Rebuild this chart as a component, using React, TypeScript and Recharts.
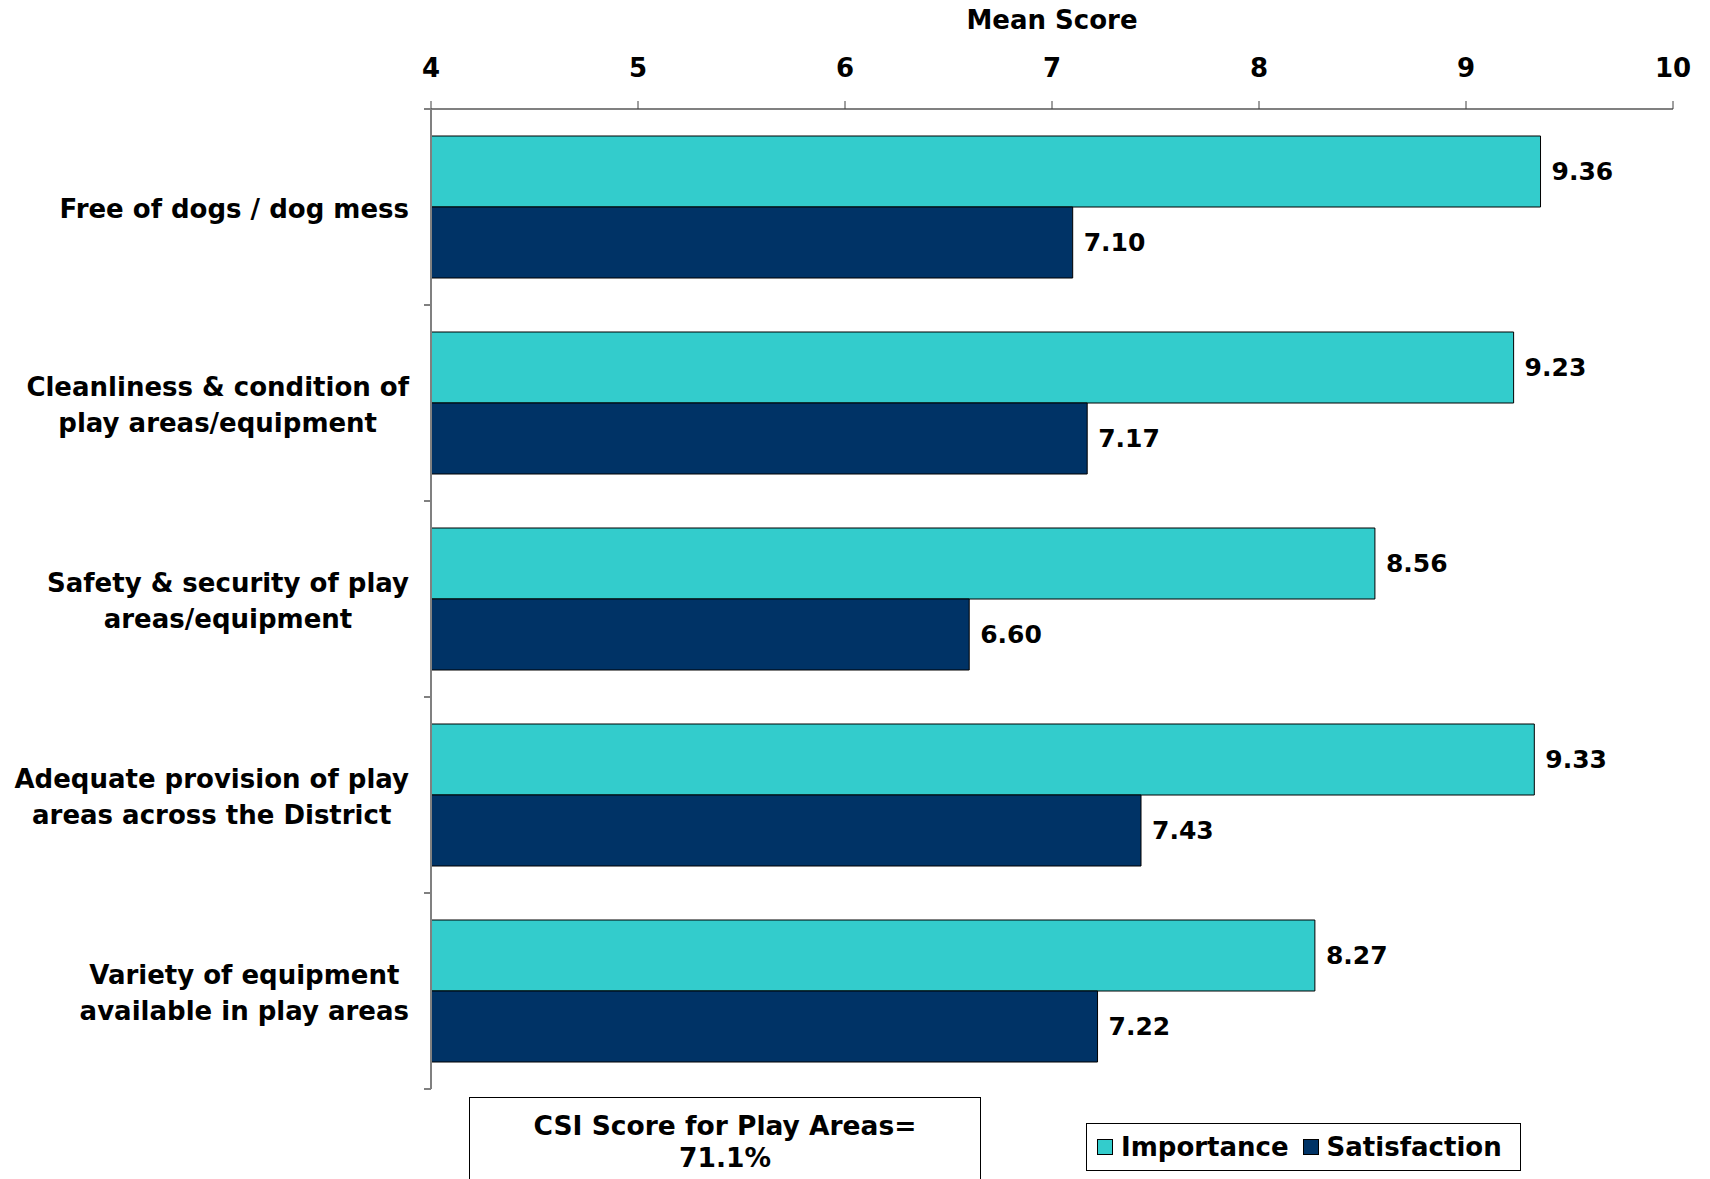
import { Bar, BarChart, LabelList, XAxis, YAxis } from 'recharts';

const categories = [
  'Free of dogs / dog mess',
  'Cleanliness & condition of\nplay areas/equipment',
  'Safety & security of play\nareas/equipment',
  'Adequate provision of play\nareas across the District',
  'Variety of equipment\navailable in play areas',
];
const importance = [9.36, 9.23, 8.56, 9.33, 8.27];
const satisfaction = [7.1, 7.17, 6.6, 7.43, 7.22];
const scoreTicks = [4, 5, 6, 7, 8, 9, 10];

const data = categories.map((name, i) => ({
  name,
  importance: importance[i],
  satisfaction: satisfaction[i],
}));

const W = 1710;
const H = 1179;
const TOP = 109;
const BOTTOM = 90;
const LEFT = 431;
const RIGHT = 37;
const BAND = (H - TOP - BOTTOM) / categories.length;
const FONT = "'DejaVu Sans', Verdana, sans-serif";
const LABEL_SIZE = 26;

let ctx: CanvasRenderingContext2D | null = null;
function measure(text: string) {
  if (!ctx) ctx = document.createElement('canvas').getContext('2d');
  if (!ctx) return text.length * 16;
  ctx.font = `bold ${LABEL_SIZE}px ${FONT}`;
  return ctx.measureText(text).width;
}

function CategoryTick(props: any) {
  const { x, y, payload, index } = props;
  const axisX = x + 22;
  const lines = String(payload.value).split('\n');
  const maxW = Math.max(...lines.map(measure));
  const cx = x - maxW / 2;
  const lineH = 36;
  const startY = y - ((lines.length - 1) * lineH) / 2 + 2;
  return (
    <g>
      <line x1={axisX - 7} x2={axisX} y1={y - BAND / 2} y2={y - BAND / 2} stroke="#808080" strokeWidth={2} />
      {index === categories.length - 1 && (
        <line x1={axisX - 7} x2={axisX} y1={y + BAND / 2} y2={y + BAND / 2} stroke="#808080" strokeWidth={2} />
      )}
      <text textAnchor="middle" fontFamily={FONT} fontWeight="bold" fontSize={LABEL_SIZE} fill="#000">
        {lines.map((l, i) => (
          <tspan key={i} x={cx} y={startY + i * lineH} dy="0.36em">
            {l}
          </tspan>
        ))}
      </text>
    </g>
  );
}

const valueLabel = {
  position: 'right' as const,
  offset: 11,
  formatter: (v: any) => Number(v).toFixed(2),
  fill: '#000',
  fontSize: 25,
  fontWeight: 'bold',
  fontFamily: FONT,
};

export default function App() {
  return (
    <div style={{ position: 'absolute', left: 0, top: 0, width: W, height: H, background: '#fff', fontFamily: FONT }}>
      <BarChart
        width={W}
        height={H}
        data={data}
        layout="vertical"
        margin={{ top: 0, right: RIGHT, bottom: BOTTOM, left: 0 }}
        barGap={0}
        barSize={71}
      >
        <XAxis
          type="number"
          orientation="top"
          domain={[4, 10]}
          ticks={scoreTicks}
          interval={0}
          height={TOP}
          axisLine={{ stroke: '#808080', strokeWidth: 2 }}
          tickLine={{ stroke: '#404040', strokeWidth: 1 }}
          tickSize={8}
          tickMargin={24}
          tick={{ fill: '#000', fontSize: 26, fontWeight: 'bold', fontFamily: FONT }}
          label={{
            value: 'Mean Score',
            position: 'insideTop',
            offset: 11,
            fill: '#000',
            fontSize: 26,
            fontWeight: 'bold',
            fontFamily: FONT,
          }}
        />
        <YAxis
          type="category"
          dataKey="name"
          width={LEFT}
          axisLine={{ stroke: '#808080', strokeWidth: 2 }}
          tickLine={false}
          tickSize={0}
          tickMargin={22}
          interval={0}
          tick={<CategoryTick />}
        />
        <Bar dataKey="importance" name="Importance" fill="#33CCCC" stroke="#000" strokeWidth={1} isAnimationActive={false}>
          <LabelList dataKey="importance" {...valueLabel} />
        </Bar>
        <Bar dataKey="satisfaction" name="Satisfaction" fill="#003366" stroke="#000" strokeWidth={1} isAnimationActive={false}>
          <LabelList dataKey="satisfaction" {...valueLabel} />
        </Bar>
      </BarChart>

      <div
        style={{
          position: 'absolute',
          left: 469,
          top: 1097,
          width: 512,
          height: 100,
          border: '1.5px solid #000',
          boxSizing: 'border-box',
          textAlign: 'center',
          fontWeight: 'bold',
          fontSize: 26.5,
          lineHeight: '32px',
          paddingTop: 12,
        }}
      >
        CSI Score for Play Areas=
        <br />
        71.1%
      </div>

      <div
        style={{
          position: 'absolute',
          left: 1086,
          top: 1123,
          width: 435,
          height: 48,
          border: '1.5px solid #000',
          boxSizing: 'border-box',
          display: 'flex',
          alignItems: 'center',
          paddingLeft: 10,
          gap: 14,
          fontWeight: 'bold',
          fontSize: 26,
        }}
      >
        {[
          { label: 'Importance', color: '#33CCCC' },
          { label: 'Satisfaction', color: '#003366' },
        ].map((item) => (
          <span key={item.label} style={{ display: 'flex', alignItems: 'center', gap: 8 }}>
            <span
              style={{ width: 14, height: 14, background: item.color, border: '1px solid #000', display: 'inline-block' }}
            />
            {item.label}
          </span>
        ))}
      </div>
    </div>
  );
}
